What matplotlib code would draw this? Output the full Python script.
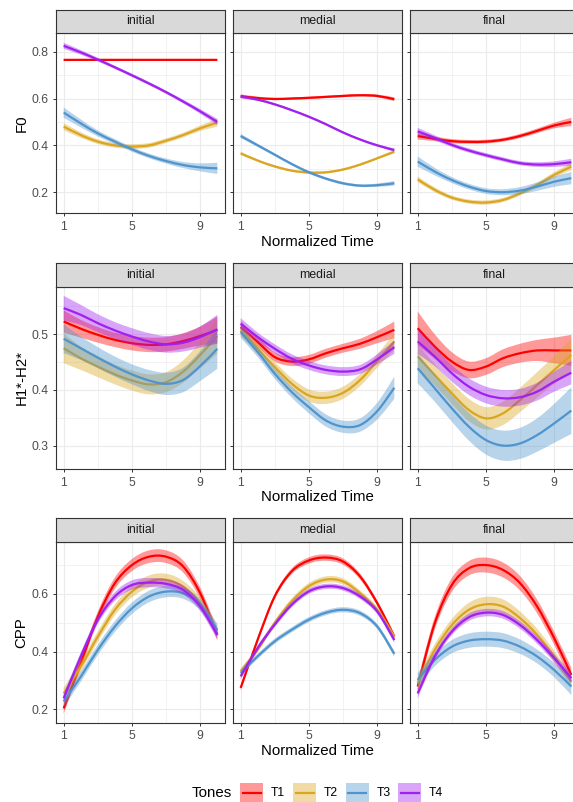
import matplotlib
matplotlib.use("Agg")
import matplotlib.pyplot as plt
from matplotlib.patches import Rectangle, PathPatch
from matplotlib.path import Path
from matplotlib.lines import Line2D

plt.rcParams['font.family'] = ['Liberation Sans', 'DejaVu Sans']

# ---- data ----
time = [1, 2, 3, 4, 5, 6, 7, 8, 9, 10]
tones = ["T1", "T2", "T3", "T4"]
positions = ["initial", "medial", "final"]
measures = ["F0", "H1*-H2*", "CPP"]

# each: rows are T1, T2, T3, T4
f0_initial = [
    [0.765, 0.765, 0.765, 0.765, 0.765, 0.765, 0.765, 0.765, 0.765, 0.765],
    [0.48, 0.444, 0.416, 0.40, 0.395, 0.40, 0.42, 0.444, 0.473, 0.497],
    [0.54, 0.494, 0.451, 0.416, 0.383, 0.355, 0.333, 0.316, 0.306, 0.302],
    [0.825, 0.797, 0.766, 0.733, 0.699, 0.664, 0.627, 0.587, 0.545, 0.50],
]
f0_medial = [
    [0.61, 0.602, 0.598, 0.60, 0.603, 0.607, 0.611, 0.614, 0.611, 0.597],
    [0.366, 0.335, 0.31, 0.292, 0.284, 0.285, 0.297, 0.318, 0.345, 0.373],
    [0.44, 0.40, 0.36, 0.32, 0.285, 0.258, 0.238, 0.228, 0.23, 0.238],
    [0.608, 0.595, 0.575, 0.55, 0.522, 0.49, 0.455, 0.425, 0.40, 0.38],
]
f0_final = [
    [0.44, 0.428, 0.418, 0.415, 0.416, 0.424, 0.44, 0.462, 0.485, 0.50],
    [0.255, 0.21, 0.177, 0.16, 0.156, 0.167, 0.195, 0.231, 0.274, 0.309],
    [0.331, 0.288, 0.252, 0.224, 0.205, 0.20, 0.207, 0.224, 0.245, 0.26],
    [0.46, 0.432, 0.402, 0.378, 0.358, 0.34, 0.324, 0.318, 0.32, 0.328],
]
h1_initial = [
    [0.523, 0.51, 0.499, 0.49, 0.484, 0.481, 0.482, 0.488, 0.497, 0.508],
    [0.475, 0.457, 0.442, 0.428, 0.417, 0.41, 0.414, 0.433, 0.463, 0.497],
    [0.492, 0.475, 0.458, 0.442, 0.428, 0.417, 0.411, 0.418, 0.443, 0.474],
    [0.547, 0.535, 0.52, 0.507, 0.496, 0.487, 0.482, 0.485, 0.495, 0.509],
]
h1_medial = [
    [0.513, 0.486, 0.459, 0.451, 0.455, 0.466, 0.475, 0.483, 0.495, 0.508],
    [0.507, 0.474, 0.441, 0.411, 0.39, 0.386, 0.395, 0.418, 0.452, 0.487],
    [0.504, 0.468, 0.429, 0.396, 0.369, 0.345, 0.334, 0.337, 0.362, 0.404],
    [0.519, 0.495, 0.474, 0.456, 0.444, 0.436, 0.433, 0.437, 0.455, 0.477],
]
h1_final = [
    [0.511, 0.478, 0.451, 0.436, 0.442, 0.457, 0.466, 0.471, 0.471, 0.471],
    [0.46, 0.427, 0.394, 0.364, 0.349, 0.358, 0.382, 0.409, 0.436, 0.463],
    [0.439, 0.403, 0.367, 0.334, 0.31, 0.30, 0.304, 0.319, 0.34, 0.363],
    [0.487, 0.46, 0.43, 0.406, 0.391, 0.385, 0.387, 0.397, 0.415, 0.431],
]
cpp_initial = [
    [0.203, 0.36, 0.521, 0.637, 0.70, 0.729, 0.729, 0.695, 0.602, 0.458],
    [0.255, 0.348, 0.452, 0.545, 0.608, 0.643, 0.649, 0.625, 0.568, 0.469],
    [0.227, 0.313, 0.406, 0.487, 0.55, 0.591, 0.608, 0.602, 0.562, 0.475],
    [0.238, 0.383, 0.51, 0.591, 0.631, 0.639, 0.635, 0.614, 0.556, 0.458],
]
cpp_medial = [
    [0.274, 0.442, 0.592, 0.679, 0.716, 0.726, 0.712, 0.66, 0.568, 0.452],
    [0.332, 0.407, 0.50, 0.575, 0.627, 0.65, 0.643, 0.602, 0.545, 0.452],
    [0.326, 0.384, 0.436, 0.476, 0.511, 0.535, 0.545, 0.533, 0.487, 0.392],
    [0.314, 0.413, 0.494, 0.563, 0.609, 0.626, 0.62, 0.591, 0.539, 0.44],
]
cpp_final = [
    [0.279, 0.498, 0.631, 0.689, 0.70, 0.683, 0.637, 0.556, 0.446, 0.319],
    [0.29, 0.406, 0.492, 0.545, 0.564, 0.556, 0.516, 0.458, 0.383, 0.296],
    [0.302, 0.371, 0.417, 0.438, 0.443, 0.438, 0.417, 0.383, 0.336, 0.279],
    [0.255, 0.383, 0.469, 0.519, 0.535, 0.527, 0.492, 0.44, 0.377, 0.308],
]

# half widths of the confidence ribbons
f0_initial_se = [
    [0.004, 0.004, 0.004, 0.004, 0.004, 0.004, 0.004, 0.004, 0.004, 0.004],
    [0.015, 0.012, 0.01, 0.01, 0.01, 0.01, 0.01, 0.01, 0.012, 0.017],
    [0.022, 0.017, 0.013, 0.011, 0.01, 0.01, 0.011, 0.013, 0.017, 0.024],
    [0.013, 0.01, 0.008, 0.007, 0.007, 0.007, 0.007, 0.008, 0.01, 0.013],
]
f0_medial_se = [
    [0.008, 0.006, 0.005, 0.005, 0.005, 0.005, 0.005, 0.005, 0.006, 0.008],
    [0.007, 0.005, 0.005, 0.005, 0.005, 0.005, 0.005, 0.005, 0.005, 0.007],
    [0.009, 0.007, 0.006, 0.006, 0.006, 0.006, 0.006, 0.006, 0.007, 0.01],
    [0.007, 0.005, 0.005, 0.005, 0.005, 0.005, 0.005, 0.005, 0.005, 0.007],
]
f0_final_se = [
    [0.015, 0.01, 0.009, 0.008, 0.008, 0.008, 0.009, 0.01, 0.012, 0.018],
    [0.012, 0.01, 0.009, 0.009, 0.009, 0.009, 0.009, 0.01, 0.012, 0.015],
    [0.022, 0.016, 0.013, 0.012, 0.012, 0.013, 0.015, 0.018, 0.022, 0.026],
    [0.015, 0.011, 0.009, 0.009, 0.009, 0.009, 0.009, 0.01, 0.012, 0.015],
]
h1_initial_se = [
    [0.02, 0.016, 0.014, 0.013, 0.013, 0.013, 0.013, 0.014, 0.017, 0.024],
    [0.027, 0.021, 0.019, 0.018, 0.018, 0.018, 0.018, 0.02, 0.024, 0.032],
    [0.026, 0.021, 0.019, 0.018, 0.018, 0.019, 0.02, 0.022, 0.027, 0.036],
    [0.022, 0.018, 0.016, 0.015, 0.015, 0.015, 0.015, 0.016, 0.019, 0.026],
]
h1_medial_se = [
    [0.01, 0.009, 0.008, 0.008, 0.008, 0.008, 0.008, 0.009, 0.011, 0.015],
    [0.01, 0.009, 0.009, 0.01, 0.011, 0.011, 0.011, 0.011, 0.012, 0.015],
    [0.01, 0.009, 0.009, 0.01, 0.011, 0.011, 0.011, 0.012, 0.015, 0.02],
    [0.01, 0.008, 0.008, 0.008, 0.008, 0.008, 0.008, 0.008, 0.009, 0.012],
]
h1_final_se = [
    [0.03, 0.022, 0.017, 0.015, 0.015, 0.016, 0.017, 0.019, 0.023, 0.028],
    [0.022, 0.019, 0.019, 0.02, 0.02, 0.021, 0.022, 0.023, 0.025, 0.03],
    [0.027, 0.024, 0.024, 0.025, 0.026, 0.027, 0.028, 0.03, 0.035, 0.042],
    [0.022, 0.017, 0.015, 0.015, 0.015, 0.015, 0.015, 0.016, 0.018, 0.021],
]
cpp_initial_se = [
    [0.018, 0.018, 0.018, 0.02, 0.021, 0.022, 0.022, 0.021, 0.02, 0.02],
    [0.02, 0.018, 0.018, 0.019, 0.02, 0.021, 0.021, 0.02, 0.019, 0.02],
    [0.02, 0.018, 0.018, 0.019, 0.02, 0.02, 0.02, 0.019, 0.019, 0.022],
    [0.015, 0.014, 0.014, 0.015, 0.016, 0.016, 0.016, 0.015, 0.015, 0.016],
]
cpp_medial_se = [
    [0.01, 0.009, 0.009, 0.01, 0.011, 0.011, 0.011, 0.01, 0.009, 0.01],
    [0.01, 0.009, 0.009, 0.01, 0.011, 0.011, 0.011, 0.01, 0.009, 0.01],
    [0.01, 0.009, 0.009, 0.009, 0.009, 0.009, 0.009, 0.009, 0.009, 0.01],
    [0.01, 0.009, 0.009, 0.009, 0.009, 0.009, 0.009, 0.009, 0.009, 0.01],
]
cpp_final_se = [
    [0.022, 0.022, 0.024, 0.025, 0.026, 0.026, 0.025, 0.024, 0.023, 0.025],
    [0.022, 0.02, 0.021, 0.024, 0.026, 0.025, 0.023, 0.021, 0.02, 0.022],
    [0.025, 0.022, 0.023, 0.025, 0.026, 0.026, 0.025, 0.024, 0.025, 0.03],
    [0.016, 0.013, 0.012, 0.013, 0.013, 0.013, 0.013, 0.013, 0.014, 0.017],
]

values = [[f0_initial, f0_medial, f0_final],
          [h1_initial, h1_medial, h1_final],
          [cpp_initial, cpp_medial, cpp_final]]
bands = [[f0_initial_se, f0_medial_se, f0_final_se],
         [h1_initial_se, h1_medial_se, h1_final_se],
         [cpp_initial_se, cpp_medial_se, cpp_final_se]]

colors = ["#FF0000", "#DAA520", "#4F94CD", "#A020F0"]


def smooth_path(xs, ys):
    # bezier curve through the read points (drawn by matplotlib's Path)
    n = len(xs)
    verts = [(xs[0], ys[0])]
    codes = [Path.MOVETO]
    for i in range(n - 1):
        i0, i2 = max(i - 1, 0), min(i + 2, n - 1)
        c1 = (xs[i] + (xs[i + 1] - xs[i0]) / 6, ys[i] + (ys[i + 1] - ys[i0]) / 6)
        c2 = (xs[i + 1] - (xs[i2] - xs[i]) / 6, ys[i + 1] - (ys[i2] - ys[i]) / 6)
        verts += [c1, c2, (xs[i + 1], ys[i + 1])]
        codes += [Path.CURVE4] * 3
    return verts, codes


# ---- layout in pixels ----
W, H = 573, 802
fig = plt.figure(figsize=(W / 100, H / 100), dpi=100)


def frac(l, t, r, b):
    return [l / W, 1 - b / H, (r - l) / W, (b - t) / H]


cols_px = [(56, 225), (233, 402), (410, 579)]
rows_px = [(9.5, 32.7, 213.3), (263.3, 286.7, 469.0), (518.3, 541.7, 722.7)]
ylims = [(0.110, 0.881), (0.258, 0.5855), (0.1535, 0.781)]
ymajor = [[0.2, 0.4, 0.6, 0.8], [0.3, 0.4, 0.5], [0.2, 0.4, 0.6]]
yminor = [[0.3, 0.5, 0.7], [0.35, 0.45, 0.55], [0.3, 0.5, 0.7]]
xlab_y = [242.3, 497.0, 751.0]

border = "#333333"

for r in range(3):
    st, pt, pb = rows_px[r]
    for c in range(3):
        cl, cr = cols_px[c]
        ax = fig.add_axes(frac(cl, pt, cr, pb))
        x = time
        for k in range(4):
            y = values[r][c][k]
            se = bands[r][c][k]
            lo = [a - b for a, b in zip(y, se)]
            hi = [a + b for a, b in zip(y, se)]
            uv, uc = smooth_path(x, hi)
            lv, lc = smooth_path(x[::-1], lo[::-1])
            band = Path(uv + [lv[0]] + lv[1:] + [uv[0]],
                        uc + [Path.LINETO] + lc[1:] + [Path.CLOSEPOLY])
            ax.add_patch(PathPatch(band, facecolor=colors[k], alpha=0.4,
                                   edgecolor="none", zorder=2 + 2 * k))
            mv, mc = smooth_path(x, y)
            ax.add_patch(PathPatch(Path(mv, mc), facecolor="none",
                                   edgecolor=colors[k], lw=1.6,
                                   capstyle="butt", zorder=3 + 2 * k))
        ax.set_xlim(0.55, 10.45)
        ax.set_ylim(*ylims[r])
        ax.set_xticks([1, 5, 9])
        ax.set_xticks([3, 7], minor=True)
        ax.set_yticks(ymajor[r])
        ax.set_yticks(yminor[r], minor=True)
        ax.grid(which="major", color="#EBEBEB", lw=0.8, zorder=0)
        ax.grid(which="minor", color="#EBEBEB", lw=0.45, zorder=0)
        ax.set_axisbelow(True)
        ax.tick_params(which="major", length=2.5, width=0.7, color=border,
                       labelsize=8.7, labelcolor="#4D4D4D")
        ax.tick_params(axis="y", pad=3)
        ax.tick_params(axis="x", pad=3)
        ax.tick_params(which="minor", length=0)
        if c == 0:
            ax.set_yticklabels([f"{v:.1f}" for v in ymajor[r]])
        else:
            ax.set_yticklabels([])
        for s in ax.spines.values():
            s.set_color(border)
            s.set_linewidth(0.8)

        # strip
        sax = fig.add_axes(frac(cl, st, cr, pt))
        sax.set_facecolor("#D9D9D9")
        sax.set_xticks([])
        sax.set_yticks([])
        for s in sax.spines.values():
            s.set_color(border)
            s.set_linewidth(0.8)
        sax.text(0.5, 0.5, positions[c], ha="center", va="center",
                 fontsize=8.8, color="#1A1A1A", transform=sax.transAxes)

    fig.text(21.5 / W, 1 - ((pt + pb) / 2) / H, measures[r], rotation=90,
             ha="center", va="center", fontsize=10.8, color="black")
    fig.text(317.5 / W, 1 - xlab_y[r] / H, "Normalized Time",
             ha="center", va="center", fontsize=10.8, color="black")

# ---- legend ----
ly = 793
fig.text(191.7 / W, 1 - ly / H, "Tones", ha="left", va="center",
         fontsize=10.8, color="black")
key_x = [240, 293, 345.7, 398]
for k in range(4):
    kx = key_x[k]
    fig.patches.append(Rectangle((kx / W, 1 - (ly + 10) / H), 23 / W, 20 / H,
                                 transform=fig.transFigure, facecolor=colors[k],
                                 alpha=0.4, edgecolor="none"))
    fig.lines.append(Line2D([(kx + 2.5) / W, (kx + 20.5) / W],
                            [1 - ly / H, 1 - ly / H], transform=fig.transFigure,
                            color=colors[k], lw=1.6))
    fig.text((kx + 31) / W, 1 - ly / H, tones[k], ha="left", va="center",
             fontsize=8.7, color="black")

fig.savefig("out.png", dpi=100)
